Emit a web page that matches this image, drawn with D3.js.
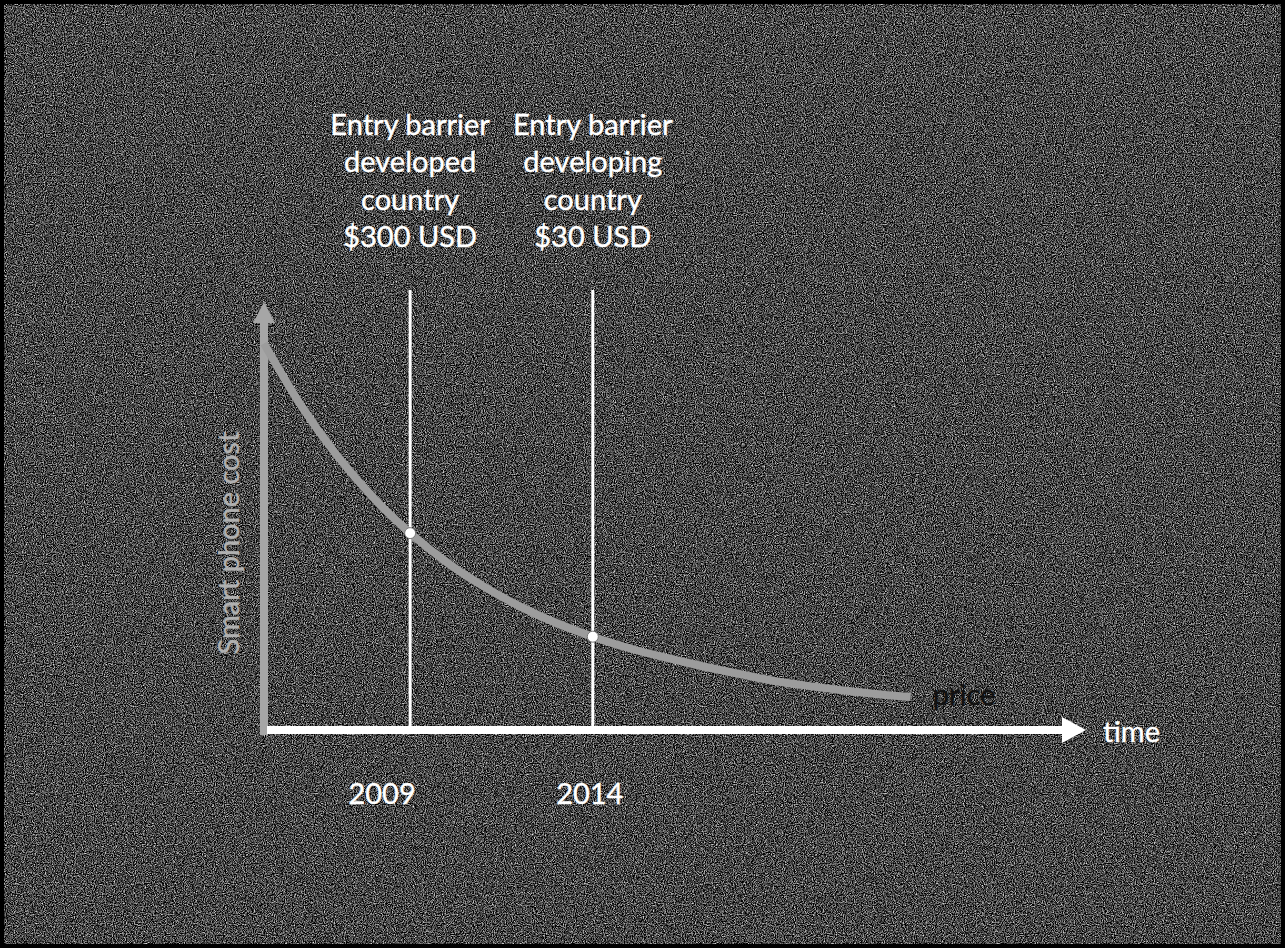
<!DOCTYPE html>
<meta charset="utf-8">
<style>
body { margin: 0; background: #3a3a3a; }
svg { display: block; }
.lbl { font-family: Lato, "Open Sans", sans-serif; font-size: 29px; fill: #fff; stroke: #fff; stroke-width: 0.4px; }
</style>
<svg width="1285" height="948"></svg>
<script src="https://cdn.jsdelivr.net/npm/d3@7"></script>
<script>

// price curve (cost as % of axis height)
var years = [2005, 2006, 2007, 2008, 2009, 2010, 2011, 2012, 2013, 2014,
             2015, 2016, 2017, 2018, 2019, 2020, 2021, 2022, 2022.7];
var cost = [90.3, 76.0, 64.1, 54.2, 46.0, 39.2, 33.6, 28.9, 25.0, 21.8,
            19.1, 16.9, 14.9, 13.1, 11.4, 10.2, 9.1, 8.2, 7.7];

var barrierYears = [2009, 2014];
var barrierLabels = [
  ["Entry barrier", "developed", "country", "$300 USD"],
  ["Entry barrier", "developing", "country", "$30 USD"]
];
var tickLabels = ["2009", "2014"];

var svg = d3.select("svg"),
    W = +svg.attr("width"),
    H = +svg.attr("height");

var x = d3.scaleLinear().domain([2005, 2027.5]).range([264, 1086]),
    y = d3.scaleLinear().domain([0, 100]).range([730, 302]);

// textured dark background
var defs = svg.append("defs");
var f = defs.append("filter").attr("id", "noise")
    .attr("x", 0).attr("y", 0).attr("width", "100%").attr("height", "100%")
    .attr("color-interpolation-filters", "sRGB");
f.append("feTurbulence").attr("type", "fractalNoise")
    .attr("baseFrequency", 0.9).attr("numOctaves", 2).attr("seed", 4);
f.append("feColorMatrix").attr("type", "matrix")
    .attr("values", "1.7 0 0 0 -0.58  1.7 0 0 0 -0.58  1.7 0 0 0 -0.58  0 0 0 0 1");

svg.append("rect").attr("width", W).attr("height", H).attr("fill", "#3a3a3a");
svg.append("rect").attr("width", W).attr("height", H).attr("filter", "url(#noise)");
svg.append("rect").attr("x", 2).attr("y", 2).attr("width", W - 4).attr("height", H - 4)
    .attr("fill", "none").attr("stroke", "#000").attr("stroke-width", 4);

// y axis arrow (grey)
var yx = x(2005);
svg.append("line")
    .attr("x1", yx).attr("x2", yx)
    .attr("y1", y(0) + 5).attr("y2", y(100) + 18)
    .attr("stroke", "#a6a6a6").attr("stroke-width", 8);
svg.append("path")
    .attr("d", "M" + yx + "," + y(100) + "l-11,21h22z")
    .attr("fill", "#a6a6a6");

// barrier lines
svg.selectAll(".barrier").data(barrierYears).enter().append("line")
    .attr("x1", function(d) { return x(d); })
    .attr("x2", function(d) { return x(d); })
    .attr("y1", 290).attr("y2", y(0))
    .attr("stroke", "#fff").attr("stroke-width", 3);

// price curve
var pts = years.map(function(d, i) { return [d, cost[i]]; });
var line = d3.line()
    .curve(d3.curveMonotoneX)
    .x(function(d) { return x(d[0]); })
    .y(function(d) { return y(d[1]); });

svg.append("path")
    .datum(pts)
    .attr("d", line)
    .attr("fill", "none")
    .attr("stroke", "#9c9c9c")
    .attr("stroke-width", 8);

// x axis arrow (white)
svg.append("line")
    .attr("x1", yx + 3).attr("x2", x(2027.5) - 22)
    .attr("y1", y(0)).attr("y2", y(0))
    .attr("stroke", "#fff").attr("stroke-width", 8);
svg.append("path")
    .attr("d", "M" + x(2027.5) + "," + y(0) + "l-24,-13v26z")
    .attr("fill", "#fff");

// markers where barriers cross the curve
svg.selectAll(".dot").data(barrierYears).enter().append("circle")
    .attr("cx", function(d) { return x(d); })
    .attr("cy", function(d) { return y(cost[years.indexOf(d)]); })
    .attr("r", 5.5)
    .attr("fill", "#fff").attr("stroke", "#777").attr("stroke-width", 1);

// barrier labels
var lab = svg.selectAll(".blab").data(barrierYears).enter().append("text")
    .attr("class", "lbl")
    .attr("text-anchor", "middle");
lab.selectAll("tspan")
    .data(function(d, i) { return barrierLabels[i].map(function(t) { return {t: t, x: x(d)}; }); })
    .enter().append("tspan")
    .attr("x", function(d) { return d.x; })
    .attr("y", function(d, i) { return 135 + i * 37.3; })
    .text(function(d) { return d.t; });

// year labels under the axis
var tickShift = [-28, -3];
svg.selectAll(".tick").data(barrierYears).enter().append("text")
    .attr("class", "lbl")
    .attr("text-anchor", "middle")
    .attr("x", function(d, i) { return x(d) + tickShift[i]; })
    .attr("y", 804)
    .text(function(d, i) { return tickLabels[i]; });

svg.append("text").attr("class", "lbl")
    .attr("x", x(2027.5) + 17).attr("y", y(0) + 12)
    .text("time");

svg.append("text").attr("class", "lbl")
    .style("fill", "#111").style("stroke", "#111")
    .attr("x", x(2022.7) + 22).attr("y", 705)
    .text("price");

svg.append("text").attr("class", "lbl")
    .style("fill", "#b0b0b0").style("stroke", "#b0b0b0")
    .attr("text-anchor", "middle")
    .attr("transform", "translate(239," + 543 + ") rotate(-90)")
    .text("Smart phone cost");

</script>
